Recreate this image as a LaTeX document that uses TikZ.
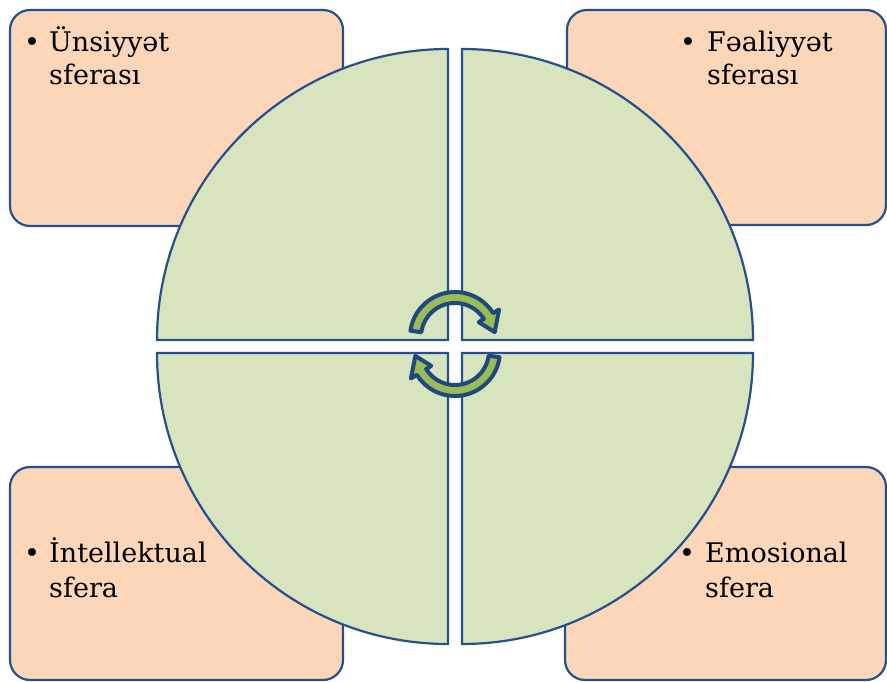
\documentclass[tikz,border=0pt]{standalone}
\usepackage{fontspec}
\setmainfont{DejaVu Serif}
\usetikzlibrary{calc}
\definecolor{edge}{RGB}{37,80,140}
\definecolor{peach}{RGB}{251,214,185}
\definecolor{leaf}{RGB}{216,228,190}
\definecolor{arrowfill}{RGB}{155,187,89}
\definecolor{arrowedge}{RGB}{31,73,125}
\begin{document}
\begin{tikzpicture}[x=1pt,y=1pt,
 box/.style={draw=edge, fill=peach, line width=2.2pt, rounded corners=20pt},
 quad/.style={draw=edge, fill=leaf, line width=2.2pt},
 turn/.style={draw=arrowedge, fill=arrowfill, line width=4pt, line join=round},
 dot/.style={inner sep=0pt, anchor=base, font=\fontsize{27}{32}\selectfont},
 lbl/.style={inner sep=0pt, anchor=base west, font=\fontsize{27}{32}\selectfont}]
\useasboundingbox (0,0) rectangle (887,681);
\clip (0,0) rectangle (887,681);
% boxes
\draw[box] (10,455) rectangle (343,671);
\draw[box] (567,456) rectangle (886,671);
\draw[box] (10,1) rectangle (343,214);
\draw[box] (565,1) rectangle (886,214);
% quadrants
\draw[quad] (448,341) -- (157,341) arc (180:90:291) -- cycle;
\draw[quad] (462,341) -- (462,632) arc (90:0:291) -- cycle;
\draw[quad] (448,328) -- (448,37) arc (270:180:291) -- cycle;
\draw[quad] (462,328) -- (753,328) arc (0:-90:291) -- cycle;
% circular arrows
\coordinate (c1) at (455,344);
\draw[turn] ($(c1)+(172:45)$) arc (172:32:45) -- ($(c1)+(32:52)$) -- ($(c1)+(7:40)$) -- ($(c1)+(32:28)$) -- ($(c1)+(32:34)$) arc (32:172:34) -- cycle;
\begin{scope}[rotate around={180:(455,337)}]
\coordinate (c2) at (455,344);
\draw[turn] ($(c2)+(172:45)$) arc (172:32:45) -- ($(c2)+(32:52)$) -- ($(c2)+(7:40)$) -- ($(c2)+(32:28)$) -- ($(c2)+(32:34)$) arc (32:172:34) -- cycle;
\end{scope}
% texts
\node[dot] (b1) at (32,629) {•};
\node[lbl] (t1a) at (49,629) {Ünsiyyət};
\node[lbl] (t1b) at (49,596) {sferası};
\node[dot] (b2) at (688,629) {•};
\node[lbl] (t2a) at (707,629) {Fəaliyyət};
\node[lbl] (t2b) at (707,596) {sferası};
\node[dot] (b3) at (32,118) {•};
\node[lbl] (t3a) at (49,118) {İntellektual};
\node[lbl] (t3b) at (49,84) {sfera};
\node[dot] (b4) at (687,118) {•};
\node[lbl] (t4a) at (705,118) {Emosional};
\node[lbl] (t4b) at (705,84) {sfera};
\end{tikzpicture}
\end{document}
